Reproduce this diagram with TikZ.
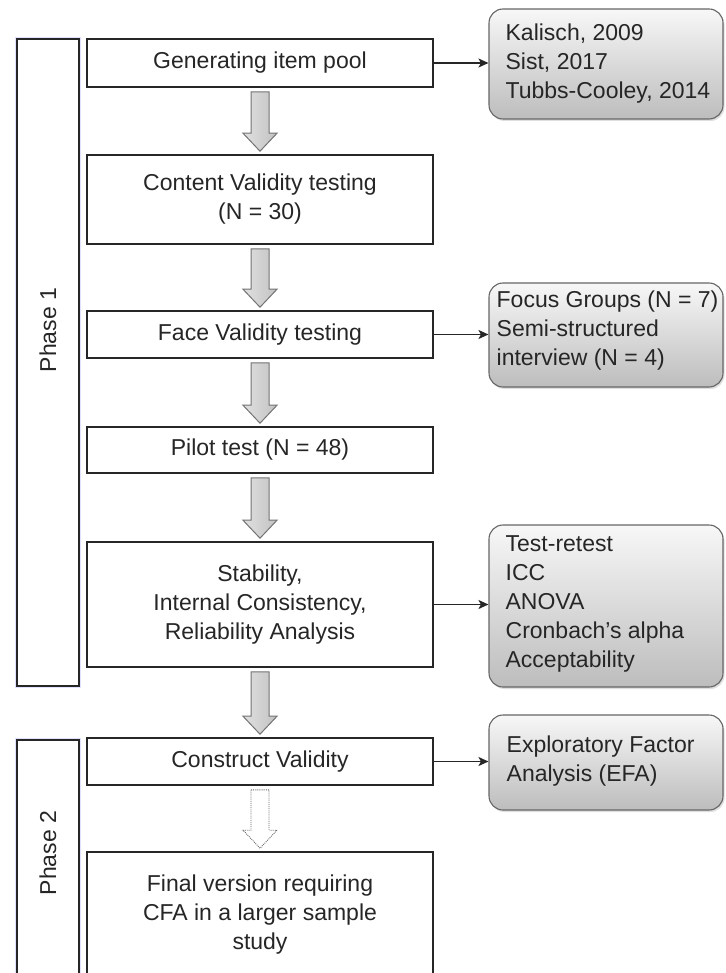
\documentclass[tikz,border=0pt]{standalone}
\usepackage{fontspec}
\setmainfont{Liberation Sans}
\usetikzlibrary{calc,shadows,arrows.meta}

\tikzset{
  txt/.style={font=\fontsize{23}{29}\selectfont, text=black!85},
  stepbox/.style={txt, draw=black!85, line width=1.6pt, fill=white,
    minimum width=346pt, inner sep=0pt, align=center},
  phasebox/.style={draw=black!85, line width=1.6pt, fill=white,
    minimum width=62pt, inner sep=0pt,
    preaction={draw=blue!12, line width=4.5pt}},
  phaselabel/.style={txt, rotate=90},
  refbox/.style={draw=black!60, line width=1.1pt, rounded corners=14pt,
    top color=black!3, bottom color=black!26, minimum width=234pt,
    inner sep=0pt, drop shadow={shadow xshift=1.5pt, shadow yshift=-2pt, opacity=0.25}},
  reftext/.style={txt, anchor=west, align=left, inner sep=0pt},
  link/.style={draw=black!85, line width=1.7pt,
    -{Stealth[length=10pt, width=9pt, inset=2.5pt]}},
  hollowarrow/.style={draw=black!55, line width=1pt, left color=black!12, right color=black!24},
  softarrow/.style={draw=black!60, line width=0.9pt, densely dotted, fill=white},
}

% block arrow pointing down from one node to the next
\newcommand\blockarrow[3][hollowarrow]{%
  \path[#1] let \p1=($(#2.south)+(0,-4pt)$), \p2=($(#3.north)+(0,3pt)$) in
    (\x1-9pt,\y1) -- (\x1+9pt,\y1) -- (\x1+9pt,\y2+18pt) -- (\x1+17pt,\y2+18pt)
    -- (\x1,\y2) -- (\x1-17pt,\y2+18pt) -- (\x1-9pt,\y2+18pt) -- cycle;}

\begin{document}
\begin{tikzpicture}[x=1pt, y=-1pt]
\useasboundingbox[fill=white] (0,0) rectangle (725,973);

% phase brackets
\node[phasebox, minimum height=647pt] (ph1) at (48,362.5) {};
\node[phaselabel] (ph1t) at (48,330) {Phase 1};
\node[phasebox, minimum height=240pt] (ph2) at (48,860) {};
\node[phaselabel] (ph2t) at (48,853) {Phase 2};

% main steps
\node[stepbox, minimum height=48pt] (gen) at (260,63) {Generating item pool};
\node[stepbox, minimum height=89pt] (cv) at (260,199.5) {Content Validity testing\\(N = 30)};
\node[stepbox, minimum height=47pt] (fv) at (260,334.5) {Face Validity testing};
\node[stepbox, minimum height=46pt] (pt) at (260,450) {Pilot test (N = 48)};
\node[stepbox, minimum height=125pt] (st) at (260,604.5) {Stability,\\Internal Consistency,\\Reliability Analysis};
\node[stepbox, minimum height=47pt] (cs) at (260,761.5) {Construct Validity};
\node[stepbox, minimum height=126pt] (fin) at (260,915) {Final version requiring\\CFA in a larger sample\\study};

% block arrows between the steps
\blockarrow{gen}{cv}
\blockarrow{cv}{fv}
\blockarrow{fv}{pt}
\blockarrow{pt}{st}
\blockarrow{st}{cs}
\blockarrow[softarrow]{cs}{fin}

% reference boxes
\node[refbox, minimum height=110pt] (r1) at (606,64) {};
\node[reftext] (r1t) at ($(r1.west)+(17,0)$) {Kalisch, 2009\\Sist, 2017\\Tubbs-Cooley, 2014};
\node[refbox, minimum height=104pt] (r2) at (606,335) {};
\node[reftext] (r2t) at ($(r2.west)+(8,-4)$) {Focus Groups (N = 7)\\Semi-structured\\interview (N = 4)};
\node[refbox, minimum height=162pt] (r3) at (606,606) {};
\node[reftext] (r3t) at ($(r3.west)+(17,-2)$) {Test-retest\\ICC\\ANOVA\\Cronbach's alpha\\Acceptability};
\node[refbox, minimum height=95pt] (r4) at (606,762.5) {};
\node[reftext] (r4t) at ($(r4.west)+(18,-1)$) {Exploratory Factor\\Analysis (EFA)};

% links to the reference boxes
\draw[link] (gen.east) -- (gen.east -| r1.west);
\draw[link] (fv.east) -- (fv.east -| r2.west);
\draw[link] (st.east) -- (st.east -| r3.west);
\draw[link] (cs.east) -- (cs.east -| r4.west);
\end{tikzpicture}
\end{document}
